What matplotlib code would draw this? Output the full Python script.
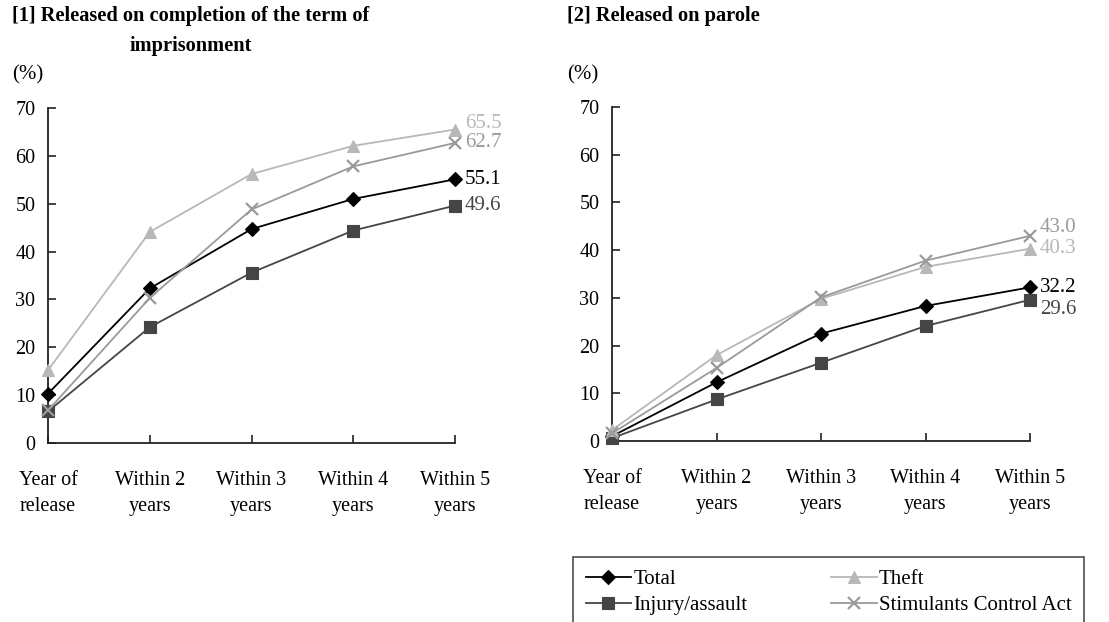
import matplotlib
matplotlib.use("Agg")
import matplotlib.pyplot as plt

plt.rcParams['font.family'] = ['Liberation Serif', 'DejaVu Serif']
plt.rcParams['font.size'] = 14.5

categories = ["Year of\nrelease", "Within 2\nyears", "Within 3\nyears", "Within 4\nyears", "Within 5\nyears"]
series_names = ["Total", "Injury/assault", "Theft", "Stimulants Control Act"]

# [1] Released on completion of the term of imprisonment
completion_total = [10.3, 32.3, 44.7, 51.0, 55.1]
completion_injury = [6.6, 24.2, 35.6, 44.4, 49.6]
completion_theft = [15.2, 44.1, 56.2, 62.1, 65.5]
completion_stim = [6.8, 30.3, 48.8, 57.8, 62.7]

# [2] Released on parole
parole_total = [1.0, 12.3, 22.5, 28.3, 32.2]
parole_injury = [0.6, 8.7, 16.4, 24.1, 29.6]
parole_theft = [2.3, 18.0, 29.8, 36.5, 40.3]
parole_stim = [1.6, 15.3, 30.1, 37.8, 43.0]

colors = ["#000000", "#454545", "#b8b8b8", "#9a9a9a"]
markers = ["D", "s", "^", "x"]
msizes = [7, 8.5, 8.5, 9]

fig = plt.figure(figsize=(11.09, 6.22), dpi=100)
W, H = 1109, 622


def make_axes(px_left, px_right, px_zero, px_top):
    return fig.add_axes([px_left / W, 1 - px_zero / H,
                         (px_right - px_left) / W, (px_zero - px_top) / H])


def draw_panel(ax, data, label_dy):
    x = list(range(len(categories)))
    for vals, c, m, ms, dy in zip(data, colors, markers, msizes, label_dy):
        ax.plot(x, vals, color=c, marker=m, markersize=ms, linewidth=1.3,
                markeredgewidth=1.6 if m == "x" else 0.8, clip_on=False, zorder=3)
        ax.annotate(f"{vals[-1]:.1f}", xy=(x[-1], vals[-1]), xytext=(7, dy),
                    textcoords="offset points", va="center", ha="left",
                    color=c, fontsize=15)
    ax.set_xlim(0, len(categories) - 1)
    ax.set_ylim(0, 70)
    ax.set_yticks(range(0, 71, 10))
    ax.set_xticks(x)
    ax.set_xticklabels(categories, linespacing=1.55)
    for s in ["top", "right"]:
        ax.spines[s].set_visible(False)
    for s in ["left", "bottom"]:
        ax.spines[s].set_color("#222222")
        ax.spines[s].set_linewidth(1.3)
    ax.tick_params(axis="y", direction="in", length=6, width=1.2, pad=9, color="#222222")
    ax.tick_params(axis="x", direction="in", length=6, width=1.2, pad=20, color="#222222")
    ax.patch.set_alpha(0)


ax1 = make_axes(48, 455, 443, 108)
draw_panel(ax1, [completion_total, completion_injury, completion_theft, completion_stim],
           [0, 0, 4, 0])

ax2 = make_axes(612, 1030, 441, 107)
draw_panel(ax2, [parole_total, parole_injury, parole_theft, parole_stim],
           [0, -7, 0, 6])

fig.text(191 / W, 1 - 6 / H, "[1] Released on completion of the term of\nimprisonment",
         ha="center", va="top", fontweight="bold", fontsize=14.7, multialignment="center",
         linespacing=1.7)
fig.text(567 / W, 1 - 6 / H, "[2] Released on parole", ha="left", va="top",
         fontweight="bold", fontsize=14.7)
fig.text(12 / W, 1 - 75 / H, "(%)", ha="left", va="center", fontsize=15)
fig.text(567 / W, 1 - 75 / H, "(%)", ha="left", va="center", fontsize=15)

handles = ax1.get_lines()[:4]
leg = fig.legend(handles, series_names,
                 loc="upper left", bbox_to_anchor=(573 / W, 1 - 557 / H), borderaxespad=0,
                 ncol=2, frameon=True, fancybox=False, edgecolor="#222222", handlelength=2.2,
                 handletextpad=0.1, columnspacing=4.0, borderpad=0.6, labelspacing=0.3,
                 fontsize=15)
leg.get_frame().set_linewidth(1.2)

fig.savefig("out.png", dpi=100)
